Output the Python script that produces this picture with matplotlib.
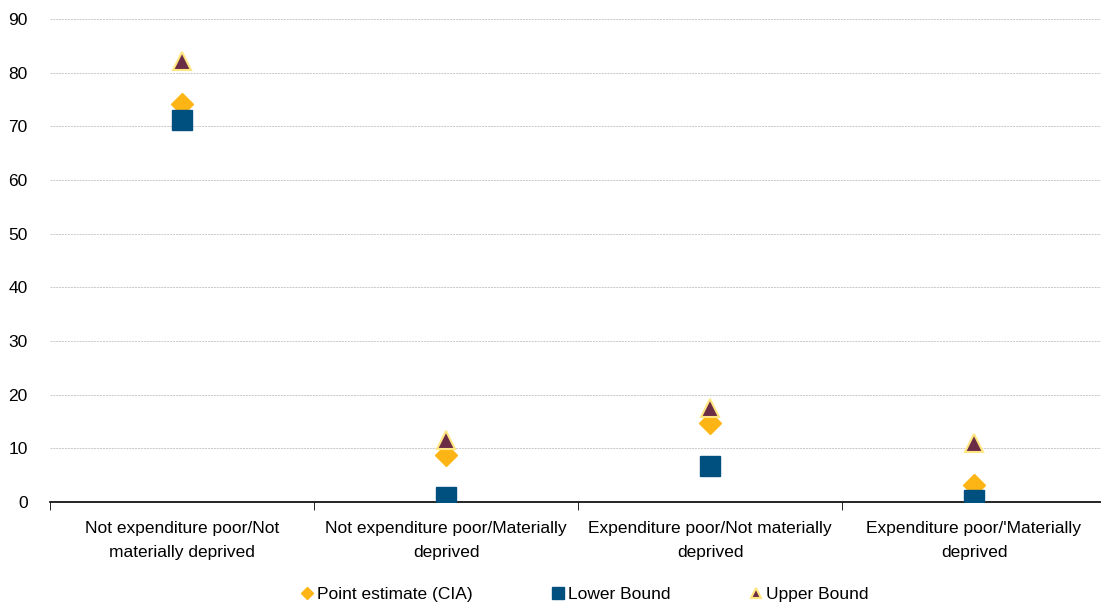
import matplotlib
matplotlib.use("Agg")
import matplotlib.pyplot as plt
import numpy as np

plt.rcParams['font.family'] = ['Liberation Sans', 'DejaVu Sans']

categories = ["Not expenditure poor/Not\nmaterially deprived",
              "Not expenditure poor/Materially\ndeprived",
              "Expenditure poor/Not materially\ndeprived",
              "Expenditure poor/'Materially\ndeprived"]
point_estimate = [74.2, 8.8, 14.7, 3.2]
lower_bound = [71.2, 0.9, 6.7, 0.4]
upper_bound = [82.2, 11.6, 17.5, 11.0]
yticks = [0, 10, 20, 30, 40, 50, 60, 70, 80, 90]

fig = plt.figure(figsize=(11.01, 6.10), dpi=100)
ax = fig.add_axes([50/1101, 1-502/610, 1056/1101, (502-19)/610])

x = np.arange(len(categories))
ax.plot(x, point_estimate, linestyle='none', marker='D', markersize=11,
        color='#FDB515', markeredgecolor='#FDB515', label='Point estimate (CIA)', zorder=3)
ax.plot(x, lower_bound, linestyle='none', marker='s', markersize=14,
        color='#00507F', markeredgecolor='#00507F', label='Lower Bound', zorder=3)
ax.plot(x, upper_bound, linestyle='none', marker='^', markersize=13,
        color='#6B2D46', markeredgecolor='#FFE680', markeredgewidth=1.5,
        label='Upper Bound', zorder=4)

ax.set_xlim(-0.5, len(categories) - 0.5)
ax.set_ylim(0, 90)
ax.set_yticks(yticks)
ax.yaxis.grid(True, color='#C8C8C8', linestyle=(0, (2, 1)), linewidth=0.7)
ax.set_axisbelow(True)
ax.tick_params(axis='y', length=0, labelsize=12.5, pad=16)
ax.set_xticks(x)
ax.set_xticklabels(categories, fontsize=12.5, linespacing=1.7)
ax.tick_params(axis='x', length=0, pad=14)
ax.set_xticks(np.arange(-0.5, len(categories)), minor=True)
ax.tick_params(axis='x', which='minor', length=6, direction='out', color='black')
for s in ['top', 'right', 'left']:
    ax.spines[s].set_visible(False)
ax.spines['bottom'].set_linewidth(1.2)

leg = fig.legend(loc='lower center', bbox_to_anchor=(0.530, -0.012), ncol=3, frameon=False,
                 fontsize=12.5, handletextpad=0.1, columnspacing=4.4, markerscale=0.6,
                 handlelength=1.0)
fig.savefig("out.png", dpi=100)
